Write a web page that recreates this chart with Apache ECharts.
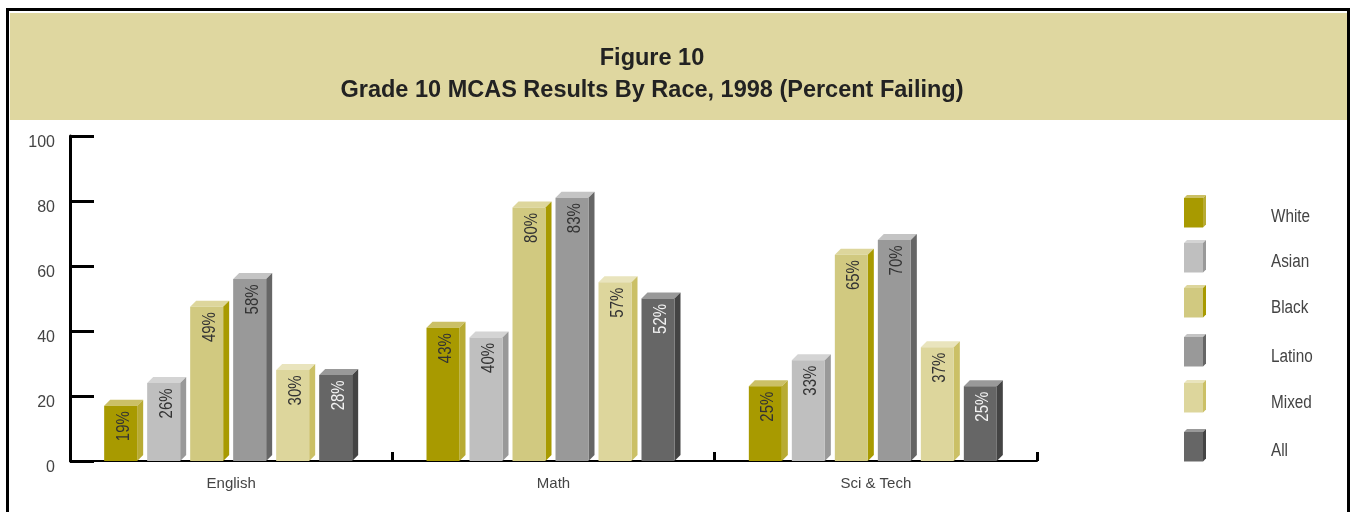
<!DOCTYPE html>
<html><head><meta charset="utf-8">
<style>html,body{margin:0;padding:0;background:#fff}#c{width:1353px;height:512px}</style>
<script src="https://cdn.jsdelivr.net/npm/echarts@6/dist/echarts.min.js"></script>
</head><body><div id="c"></div>
<script>
var categories = ['English', 'Math', 'Sci & Tech'];
var raceNames = ['White', 'Asian', 'Black', 'Latino', 'Mixed', 'All'];
var yTicks = [0, 20, 40, 60, 80, 100];
// bar heights as drawn on the axis
var whiteBars = [17, 41, 23];
var asianBars = [24, 38, 31];
var blackBars = [47.5, 78, 63.5];
var latinoBars = [56, 81, 68];
var mixedBars = [28, 55, 35];
var allBars = [26.5, 50, 23];
// percentages as printed on the bars
var whiteLabels = ['19%', '43%', '25%'];
var asianLabels = ['26%', '40%', '33%'];
var blackLabels = ['49%', '80%', '65%'];
var latinoLabels = ['58%', '83%', '70%'];
var mixedLabels = ['30%', '57%', '37%'];
var allLabels = ['28%', '52%', '25%'];

var barSets = [whiteBars, asianBars, blackBars, latinoBars, mixedBars, allBars];
var labelSets = [whiteLabels, asianLabels, blackLabels, latinoLabels, mixedLabels, allLabels];
var faces = [
  {front:'#a89a00', top:'#cbc066', side:'#b8ab33', text:'#333'},
  {front:'#bfbfbf', top:'#d4d4d4', side:'#999999', text:'#333'},
  {front:'#d1c980', top:'#ddd69c', side:'#a89a00', text:'#333'},
  {front:'#999999', top:'#c4c4c4', side:'#666666', text:'#333'},
  {front:'#ddd69c', top:'#e9e4bd', side:'#cbc066', text:'#333'},
  {front:'#666666', top:'#999999', side:'#444444', text:'#f2f2f2'}
];
var FONT = '"Liberation Sans",sans-serif';
var BAR_W = 33, DEPTH = 6, PITCH = 43;

function box(x, y, w, h, d, f) {
  return [
    {type:'polygon', shape:{points:[[x,y],[x+d,y-d],[x+w+d,y-d],[x+w,y]]}, style:{fill:f.top}},
    {type:'polygon', shape:{points:[[x+w,y],[x+w+d,y-d],[x+w+d,y+h-d],[x+w,y+h]]}, style:{fill:f.side}},
    {type:'rect', shape:{x:x,y:y,width:w,height:h}, style:{fill:f.front}}
  ];
}

var series = raceNames.map(function (name, s) {
  return {
    type:'custom', name:name, clip:false,
    data: barSets[s].map(function (v, i) { return [i, v]; }),
    encode:{x:0, y:1},
    renderItem:function (params, api) {
      var top = api.coord([api.value(0), api.value(1)]);
      var base = api.coord([api.value(0), 0]);
      var x = top[0] - 127 + s * PITCH;
      var kids = box(x, top[1], BAR_W, base[1] - top[1], DEPTH, faces[s]);
      kids.push({
        type:'text', x:x + BAR_W / 2 + 3, y:top[1] + 5.5, rotation:Math.PI / 2, scaleX:0.83,
        style:{text:labelSets[s][api.value(0)], fill:faces[s].text, font:'18px ' + FONT,
               align:'right', verticalAlign:'middle'}
      });
      return {type:'group', children:kids};
    }
  };
});

var legendTops = [198, 243, 288, 337, 383, 432];
var legendTextY = [217, 262, 308, 357, 403, 451];
var legendGraphics = [];
raceNames.forEach(function (name, s) {
  box(1184, legendTops[s], 19, 29.5, 3, faces[s]).forEach(function (e) { legendGraphics.push(e); });
  legendGraphics.push({type:'text', x:1271, y:legendTextY[s], scaleX:0.85,
    style:{text:name, fill:'#444', font:'18px ' + FONT, verticalAlign:'middle'}});
});

var chart = echarts.init(document.getElementById('c'), null, {renderer:'canvas'});
chart.setOption({
  animation:false,
  backgroundColor:'#fff',
  title:{
    text:'Figure 10\nGrade 10 MCAS Results By Race, 1998 (Percent Failing)',
    left:647, top:38, textAlign:'center',
    textStyle:{color:'#222', fontFamily:FONT, fontWeight:'bold', fontSize:23.5, lineHeight:32}
  },
  grid:{left:70, top:136, width:967, height:325, containLabel:false},
  xAxis:{
    type:'category', data:categories,
    axisLine:{lineStyle:{color:'#000', width:2}},
    axisTick:{show:true, inside:true, length:9, lineStyle:{color:'#000', width:3}},
    axisLabel:{color:'#444', fontFamily:FONT, fontSize:15, margin:15},
    splitLine:{show:false}
  },
  yAxis:{
    type:'value', min:yTicks[0], max:yTicks[yTicks.length-1], interval:20,
    axisLine:{show:true, lineStyle:{color:'#000', width:3}},
    axisTick:{show:true, inside:true, length:24, lineStyle:{color:'#000', width:3}},
    axisLabel:{color:'#444', fontFamily:FONT, fontSize:16, margin:15, verticalAlign:'top', lineHeight:14},
    splitLine:{show:false}
  },
  graphic:{elements:[
    {type:'rect', z:-10, silent:true, shape:{x:10,y:13,width:1337,height:107}, style:{fill:'#dfd7a0'}},
    {type:'polyline', z:-9, silent:true, shape:{points:[[7.5,512],[7.5,9.5],[1348.5,9.5],[1348.5,512]]},
      style:{stroke:'#000', fill:null, lineWidth:3}},
    {type:'group', children:legendGraphics}
  ]},
  series:series
});
</script></body></html>
